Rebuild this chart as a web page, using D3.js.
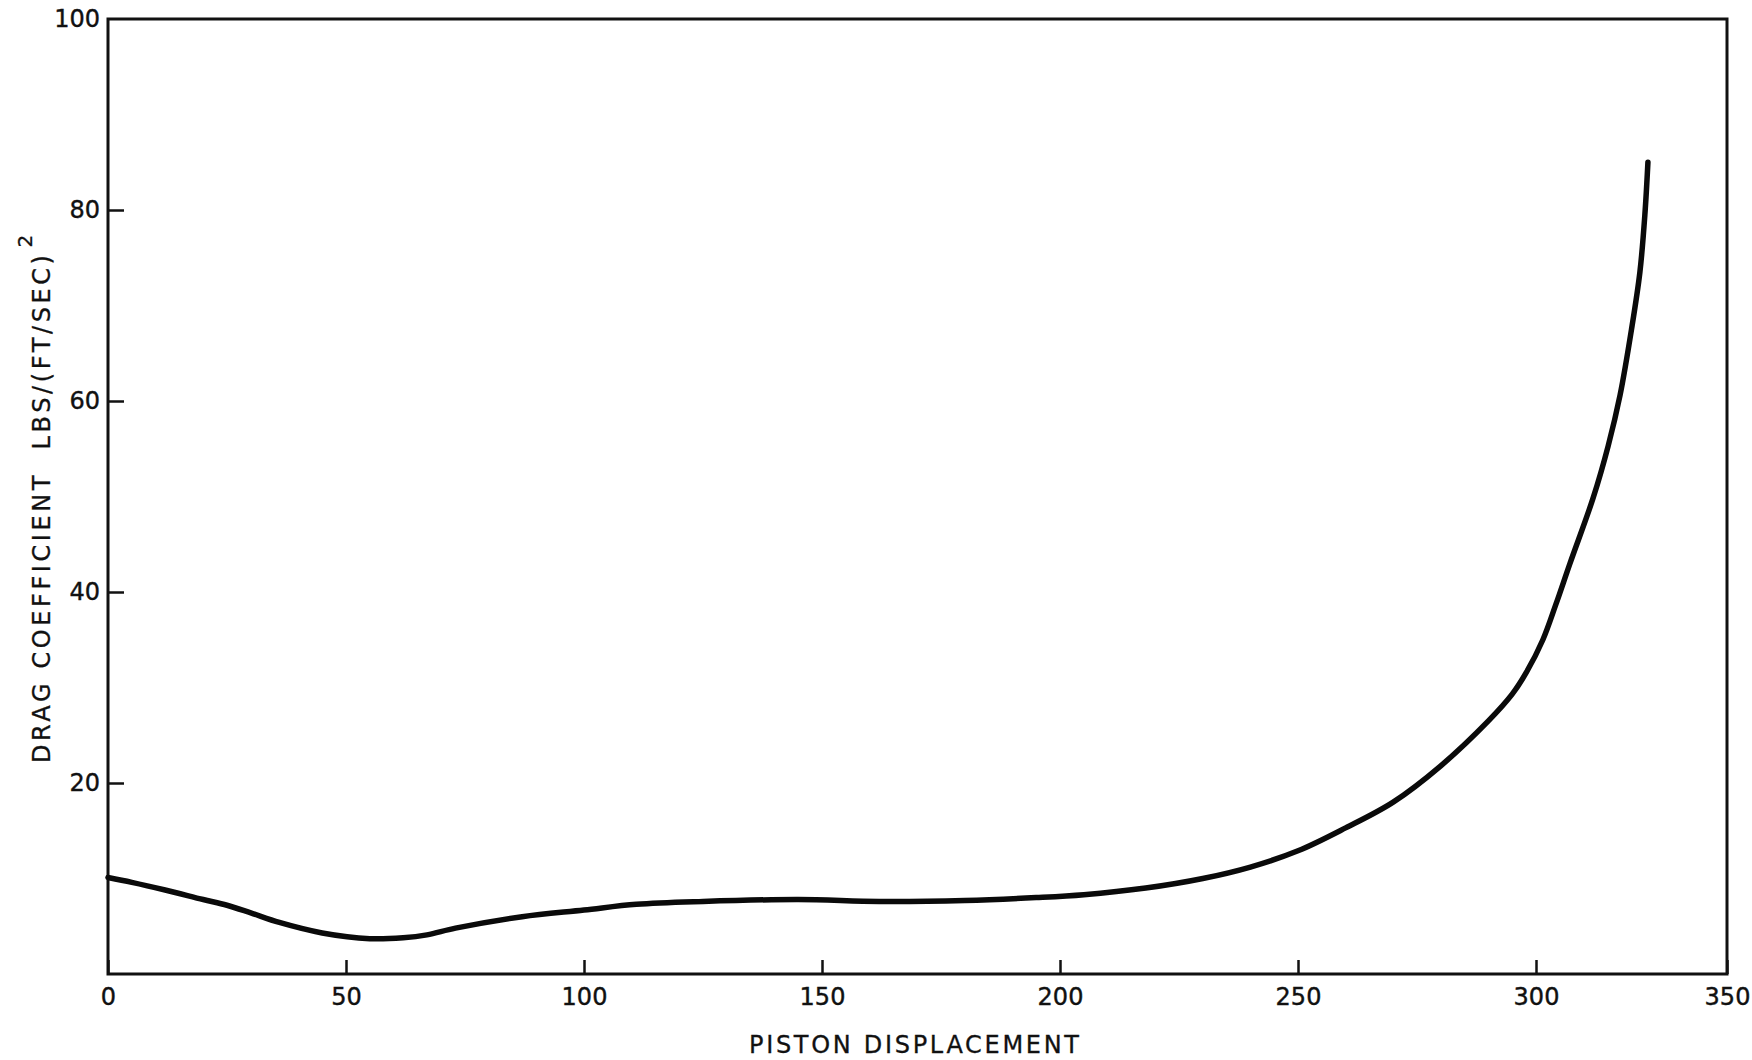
<!DOCTYPE html>
<html>
<head>
<meta charset="utf-8">
<script src="https://cdn.jsdelivr.net/npm/d3@7"></script>
<style>
  body { margin: 0; background: #fff; }
  text { font-family: "DejaVu Sans", "Liberation Sans", sans-serif; fill: #111; }
</style>
</head>
<body>
<div id="chart"></div>
<script>
// Curve: piston displacement vs drag coefficient
const displacement = [0, 5, 12, 20, 25, 30, 36, 45, 55, 62, 67, 73, 87, 100, 111, 125, 145, 162, 180, 195,
  205, 218, 230, 240, 250, 260, 270, 280, 290, 295, 298, 301.8, 305.2, 308.9, 315, 318.9, 322, 325, 327.2, 328.5, 329.3];
const dragCoef = [10.1, 9.6, 8.8, 7.8, 7.2, 6.4, 5.4, 4.3, 3.7, 3.8, 4.1, 4.8, 6.0, 6.7, 7.3, 7.6, 7.8, 7.6, 7.7, 8.0,
  8.3, 9.0, 10.0, 11.2, 12.9, 15.3, 18.0, 21.8, 26.5, 29.3, 31.6, 35.0, 38.7, 43.0, 49.9, 55.3, 60.6, 67.5, 73.5, 79.5, 85.0];

const xTicks = [0, 50, 100, 150, 200, 250, 300, 350];
const yTicks = [20, 40, 60, 80, 100];

const xTitle = "PISTON DISPLACEMENT";
const yTitle = "DRAG COEFFICIENT  LBS/(FT/SEC)";

const width = 1752;
const height = 1060;

const points = displacement.map((d, i) => ({ x: d, y: dragCoef[i] }));

const svg = d3.select("#chart")
  .append("svg")
  .attr("width", width)
  .attr("height", height);

svg.append("rect").attr("width", width).attr("height", height).attr("fill", "#fff");

// the original hand-drawn axis has a squeezed last interval
const xScale = d3.scaleLinear()
  .domain([0, 300, 350])
  .range([108, 1536, 1727]);

const yScale = d3.scaleLinear()
  .domain([0, 100])
  .range([974, 19]);

// frame
svg.append("rect")
  .attr("x", xScale(0))
  .attr("y", yScale(100))
  .attr("width", xScale(350) - xScale(0))
  .attr("height", yScale(0) - yScale(100))
  .attr("fill", "none")
  .attr("stroke", "#111")
  .attr("stroke-width", 3);

// x axis, ticks pointing inward
const xAxis = d3.axisBottom(xScale)
  .tickValues(xTicks)
  .tickFormat(d3.format("d"))
  .tickSizeInner(-14)
  .tickSizeOuter(0)
  .tickPadding(14);

const gx = svg.append("g")
  .attr("transform", `translate(0,${yScale(0)})`)
  .call(xAxis);
gx.select(".domain").remove();
gx.selectAll("line").attr("stroke", "#111").attr("stroke-width", 2.5);
gx.selectAll("text")
  .attr("font-size", 24).attr("fill", "#111")
  .attr("stroke", "#111").attr("stroke-width", 0.4);

// y axis
const yAxis = d3.axisLeft(yScale)
  .tickValues(yTicks)
  .tickFormat(d3.format("d"))
  .tickSizeInner(-16)
  .tickSizeOuter(0)
  .tickPadding(8);

const gy = svg.append("g")
  .attr("transform", `translate(${xScale(0)},0)`)
  .call(yAxis);
gy.select(".domain").remove();
gy.selectAll("line").attr("stroke", "#111").attr("stroke-width", 2.5);
gy.selectAll(".tick").filter(d => d === 100).select("line").remove();
gy.selectAll("text")
  .attr("font-size", 24).attr("fill", "#111")
  .attr("stroke", "#111").attr("stroke-width", 0.4);

// curve
const line = d3.line()
  .x(d => xScale(d.x))
  .y(d => yScale(d.y))
  .curve(d3.curveCatmullRom.alpha(0.5));

svg.append("path")
  .datum(points)
  .attr("d", line)
  .attr("fill", "none")
  .attr("stroke", "#0a0a0a")
  .attr("stroke-width", 5.5)
  .attr("stroke-linecap", "round")
  .attr("stroke-linejoin", "round");

// axis titles
svg.append("text")
  .attr("x", 914)
  .attr("y", 1053)
  .attr("text-anchor", "middle")
  .attr("font-size", 24)
  .attr("stroke", "#111").attr("stroke-width", 0.3)
  .attr("textLength", 330)
  .attr("lengthAdjust", "spacing")
  .text(xTitle);

const yt = svg.append("text")
  .attr("transform", "translate(50,763) rotate(-90)")
  .attr("font-size", 24)
  .attr("stroke", "#111").attr("stroke-width", 0.3)
  .style("white-space", "pre");

yt.append("tspan")
  .attr("textLength", 508)
  .attr("lengthAdjust", "spacing")
  .text(yTitle);

yt.append("tspan")
  .attr("font-size", 20)
  .attr("dx", 4)
  .attr("dy", -18)
  .text("2");
</script>
</body>
</html>
